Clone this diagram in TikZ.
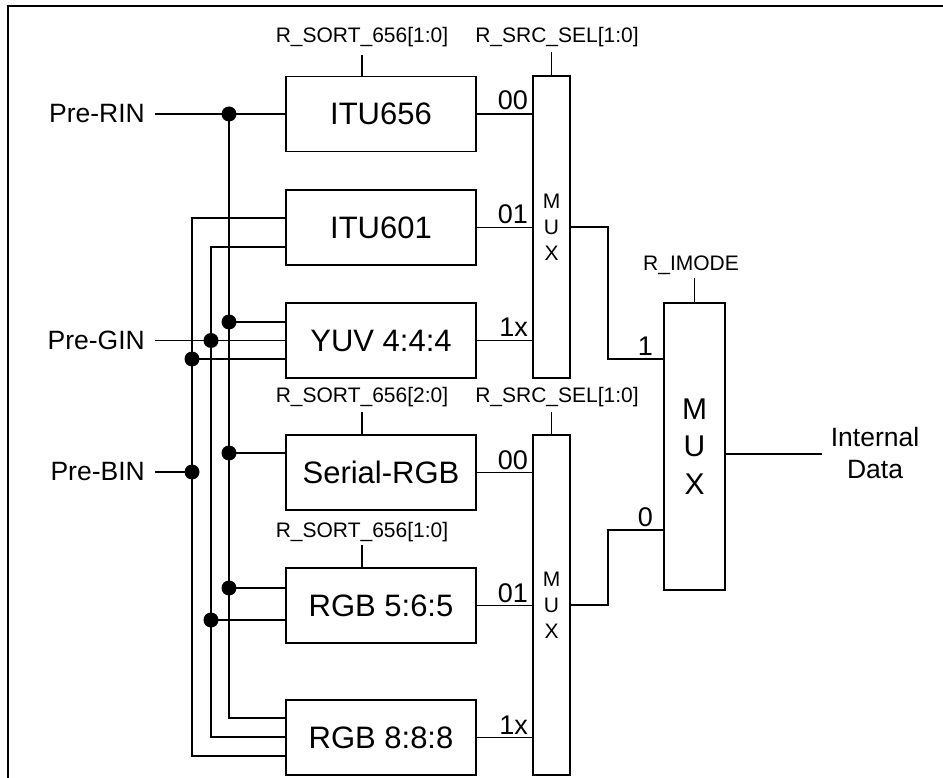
\documentclass[tikz,border=0pt]{standalone}
\usepackage{fontspec}
\setmainfont{Liberation Sans}
\begin{document}
\begin{tikzpicture}[x=1pt,y=-1pt,
  blk/.style={draw, line width=1.9pt, minimum width=190pt, minimum height=75pt, inner sep=0pt, font=\fontsize{31}{37}\selectfont},
  muxbox/.style={draw, line width=1.9pt, minimum width=37pt, inner sep=0pt, align=center, font=\fontsize{21}{26}\selectfont},
  wire/.style={line width=1.8pt},
  jdot/.style={circle, fill, inner sep=0pt, minimum size=15pt},
  reg/.style={font=\fontsize{21}{25}\selectfont, anchor=base, inner sep=0pt},
  sel/.style={font=\fontsize{27}{32}\selectfont, anchor=base east, inner sep=0pt},
  inlbl/.style={font=\fontsize{26.5}{32}\selectfont, anchor=east, inner sep=0pt}]
\useasboundingbox (0,0) rectangle (943,778);
\draw[line width=2.8pt] (943,6) -- (8,6) -- (8,778);

% processing blocks
\node[blk] (itu656) at (381,114) {ITU656};
\node[blk] (itu601) at (381,227.5) {ITU601};
\node[blk] (yuv) at (381,340.5) {YUV 4:4:4};
\node[blk] (serial) at (381,472.5) {Serial-RGB};
\node[blk] (rgb565) at (381,605.5) {RGB 5:6:5};
\node[blk] (rgb888) at (381,737.5) {RGB 8:8:8};

% multiplexers
\node[muxbox, minimum height=302pt] (muxa) at (551.5,227) {M\\U\\X};
\node[muxbox, minimum height=340pt] (muxb) at (551.5,605) {M\\U\\X};
\node[draw, line width=1.9pt, minimum width=61pt, minimum height=287pt, inner sep=0pt, align=center, font=\fontsize{30}{37.5}\selectfont] (muxc) at (694.5,446.5) {M\\U\\X};

% input labels
\node[inlbl] (prer) at (145,114) {Pre-RIN};
\node[inlbl] (preg) at (145,340.5) {Pre-GIN};
\node[inlbl] (preb) at (145,472) {Pre-BIN};

% bus coordinates
\coordinate (rtop) at (229,114);
\coordinate (rbot) at (229,718);
\coordinate (gtop) at (211,247);
\coordinate (gbot) at (211,737);
\coordinate (btop) at (192,218);
\coordinate (bbot) at (192,756);
\coordinate (ry) at (229,322);
\coordinate (gy) at (211,340.5);
\coordinate (by) at (192,359);
\coordinate (rs) at (229,453);
\coordinate (bb) at (192,472);
\coordinate (r5) at (229,588);
\coordinate (g5) at (211,620);

\draw[wire] ([xshift=10pt]prer.east) -- (itu656.west);
\draw[wire] ([xshift=10pt]preg.east) -- (yuv.west);
\draw[wire] ([xshift=10pt]preb.east) -- (bb);
\draw[wire] (rtop) -- (rbot) -- (rbot -| rgb888.west);
\draw[wire] (btop -| itu601.west) -- (btop) -- (bbot) -- (bbot -| rgb888.west);
\draw[wire] (gtop -| itu601.west) -- (gtop) -- (gbot) -- (gbot -| rgb888.west);
\draw[wire] (ry) -- (ry -| yuv.west);
\draw[wire] (by) -- (by -| yuv.west);
\draw[wire] (rs) -- (rs -| serial.west);
\draw[wire] (r5) -- (r5 -| rgb565.west);
\draw[wire] (g5) -- (g5 -| rgb565.west);
\foreach \p in {rtop,ry,gy,by,rs,bb,r5,g5} \node[jdot] at (\p) {};

% block outputs to muxes
\draw[wire] (itu656.east) -- (itu656.east -| muxa.west);
\draw[wire] (itu601.east) -- (itu601.east -| muxa.west);
\draw[wire] (yuv.east) -- (yuv.east -| muxa.west);
\draw[wire] (serial.east) -- (serial.east -| muxb.west);
\draw[wire] (rgb565.east) -- (rgb565.east -| muxb.west);
\draw[wire] (rgb888.east) -- (rgb888.east -| muxb.west);
\node[sel] (la0) at (528,110) {00};
\node[sel] (la1) at (528,224) {01};
\node[sel] (la2) at (528,337) {1x};
\node[sel] (lb0) at (528,469) {00};
\node[sel] (lb1) at (528,602) {01};
\node[sel] (lb2) at (528,734) {1x};

% mux outputs to final mux
\coordinate (ka) at (608,359);
\coordinate (kb) at (608,530);
\draw[wire] (muxa.east) -- (muxa.east -| ka) -- (ka) -- (ka -| muxc.west);
\draw[wire] (muxb.east) -- (muxb.east -| kb) -- (kb) -- (kb -| muxc.west);
\node[sel] (lc1) at (653,355) {1};
\node[sel] (lc0) at (653,526) {0};

% output
\coordinate (oy) at (822,454);
\draw[wire] (oy -| muxc.east) -- (oy);
\node[font=\fontsize{26.5}{32}\selectfont, align=center, inner sep=0pt] (outl) at (875,453) {Internal\\Data};

% register labels
\node[reg] (rg1) at (362,43) {R\_SORT\_656[1:0]};
\node[reg] (rg2) at (557,43) {R\_SRC\_SEL[1:0]};
\node[reg] (rg3) at (362,402) {R\_SORT\_656[2:0]};
\node[reg] (rg4) at (557,402) {R\_SRC\_SEL[1:0]};
\node[reg] (rg5) at (362,537) {R\_SORT\_656[1:0]};
\node[reg] (rg6) at (691,271) {R\_IMODE};
\coordinate (t1) at (362,55);
\coordinate (t2) at (551.5,52);
\coordinate (t3) at (362,412);
\coordinate (t4) at (551.5,412);
\coordinate (t5) at (362,545);
\coordinate (t6) at (694.5,278);
\draw[wire] (t1) -- (t1 |- itu656.north);
\draw[wire] (t2) -- (muxa.north);
\draw[wire] (t3) -- (t3 |- serial.north);
\draw[wire] (t4) -- (muxb.north);
\draw[wire] (t5) -- (t5 |- rgb565.north);
\draw[wire] (t6) -- (muxc.north);
\end{tikzpicture}
\end{document}
